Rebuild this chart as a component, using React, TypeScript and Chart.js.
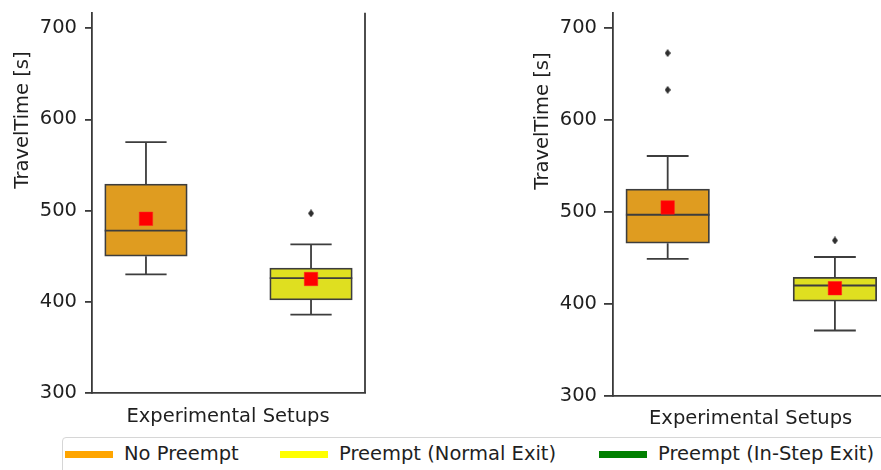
import React, { useEffect, useRef } from 'react';
import { Chart, registerables } from 'chart.js';

Chart.register(...registerables);

// ---------- data ----------
const legendLabels = ['No Preempt', 'Preempt (Normal Exit)', 'Preempt (In-Step Exit)'];
const legendColors = ['#FFA500', '#FFFF00', '#008000'];
const boxFills = ['#DF9C20', '#DFDF20'];
const boxPositions = [0, 1];
const yTickValues = [300, 400, 500, 600, 700];
const yAxisMin = 300;
const yAxisMax = 717;
const yTitle = 'TravelTime [s]';
const xTitle = 'Experimental Setups';

// left panel
const leftLow = [430, 386];
const leftQ1 = [450, 402];
const leftMedian = [478, 426];
const leftQ3 = [529, 437];
const leftHigh = [575, 463];
const leftMean = [491, 425];
const leftOutliers = [[], [497]];

// right panel
const rightLow = [449, 371];
const rightQ1 = [466, 403];
const rightMedian = [497, 420];
const rightQ3 = [525, 429];
const rightHigh = [561, 451];
const rightMean = [505, 417];
const rightOutliers = [[633, 673], [469]];

const EDGE = '#3d3d3d';
const TEXT = '#1f1f1f';
const FONT = "'DejaVu Sans', 'Liberation Sans', sans-serif";

function makeDiamond(): HTMLCanvasElement {
  const c = document.createElement('canvas');
  c.width = 6;
  c.height = 8;
  const g = c.getContext('2d')!;
  g.fillStyle = '#2e2e2e';
  g.beginPath();
  g.moveTo(3, 0);
  g.lineTo(6, 4);
  g.lineTo(3, 8);
  g.lineTo(0, 4);
  g.closePath();
  g.fill();
  return c;
}

const boxPlugin = {
  id: 'boxParts',
  afterDatasetDraw(chart: any, args: any) {
    const ds = chart.data.datasets[args.index];
    if (!ds.boxStats) return;
    const s = ds.boxStats;
    const xs = chart.scales.x;
    const ys = chart.scales.y;
    const ctx = chart.ctx;
    const cx = xs.getPixelForValue(s.pos);
    const hw = xs.getPixelForValue(s.pos + 0.25) - cx;
    const cw = hw / 2;
    const yq1 = ys.getPixelForValue(s.q1);
    const yq3 = ys.getPixelForValue(s.q3);
    const yLo = ys.getPixelForValue(s.low);
    const yHi = ys.getPixelForValue(s.high);
    const yMed = ys.getPixelForValue(s.median);
    ctx.save();
    ctx.strokeStyle = EDGE;
    ctx.lineWidth = 1.8;
    ctx.beginPath();
    ctx.moveTo(cx, yq3);
    ctx.lineTo(cx, yHi);
    ctx.moveTo(cx - cw, yHi);
    ctx.lineTo(cx + cw, yHi);
    ctx.moveTo(cx, yq1);
    ctx.lineTo(cx, yLo);
    ctx.moveTo(cx - cw, yLo);
    ctx.lineTo(cx + cw, yLo);
    ctx.moveTo(cx - hw, yMed);
    ctx.lineTo(cx + hw, yMed);
    ctx.stroke();
    ctx.restore();
  },
  afterDraw(chart: any, _args: any, opts: any) {
    const ctx = chart.ctx;
    const ca = chart.chartArea;
    ctx.save();
    if (opts.rightSpine) {
      ctx.strokeStyle = '#3a3a3a';
      ctx.lineWidth = 1.8;
      ctx.beginPath();
      ctx.moveTo(ca.right, ca.top);
      ctx.lineTo(ca.right, ca.bottom);
      ctx.stroke();
    }
    ctx.fillStyle = TEXT;
    ctx.font = `19.5px ${FONT}`;
    ctx.textAlign = 'center';
    ctx.textBaseline = 'alphabetic';
    ctx.fillText(xTitle, opts.xTitleX, opts.xTitleY);
    ctx.translate(opts.yTitleX, opts.yTitleY);
    ctx.rotate(-Math.PI / 2);
    ctx.fillText(yTitle, 0, 0);
    ctx.restore();
  },
};

interface PanelProps {
  low: number[];
  q1: number[];
  median: number[];
  q3: number[];
  high: number[];
  mean: number[];
  outliers: number[][];
  width: number;
  height: number;
  left: number;
  pad: { left: number; right: number; top: number; bottom: number };
  barThickness: number;
  tickLength: number;
  tickPadding: number;
  rightSpine: boolean;
  titles: { xTitleX: number; xTitleY: number; yTitleX: number; yTitleY: number };
}

function Panel(p: PanelProps) {
  const ref = useRef<HTMLCanvasElement>(null);
  useEffect(() => {
    if (!ref.current) return;
    const diamond = makeDiamond();
    const datasets: any[] = [];
    boxPositions.forEach((pos, i) => {
      datasets.push({
        type: 'bar',
        label: legendLabels[i],
        data: [{ x: pos, y: [p.q1[i], p.q3[i]] }],
        backgroundColor: boxFills[i],
        borderColor: EDGE,
        borderWidth: 1.8,
        borderSkipped: false,
        barThickness: p.barThickness,
        grouped: false,
        order: 3,
        boxStats: {
          pos,
          low: p.low[i],
          q1: p.q1[i],
          median: p.median[i],
          q3: p.q3[i],
          high: p.high[i],
        },
      });
    });
    datasets.push({
      type: 'scatter',
      label: 'outliers',
      data: boxPositions.flatMap((pos, i) => p.outliers[i].map((v) => ({ x: pos, y: v }))),
      pointStyle: diamond,
      pointRadius: 4,
      order: 2,
    });
    datasets.push({
      type: 'scatter',
      label: 'mean',
      data: boxPositions.map((pos, i) => ({ x: pos, y: p.mean[i] })),
      pointStyle: 'rect',
      pointRadius: 9.5,
      backgroundColor: '#FF0000',
      borderColor: '#FF2020',
      borderWidth: 0.5,
      order: 1,
    });

    const chart = new Chart(ref.current, {
      type: 'bar',
      data: { datasets },
      plugins: [boxPlugin],
      options: {
        animation: false,
        responsive: false,
        devicePixelRatio: 1,
        events: [],
        layout: { padding: { left: 0, right: p.pad.right, top: p.pad.top, bottom: 0 } },
        plugins: {
          legend: { display: false },
          tooltip: { enabled: false },
          boxParts: { rightSpine: p.rightSpine, ...p.titles },
        } as any,
        scales: {
          x: {
            type: 'linear',
            min: -0.327,
            max: 1.327,
            offset: false,
            ticks: { display: false },
            grid: { display: false, offset: false },
            border: { display: true, color: '#3a3a3a', width: 1.8 },
            afterFit: (scale: any) => {
              scale.height = p.pad.bottom;
              scale.paddingLeft = 0;
              scale.paddingRight = 0;
            },
          },
          y: {
            type: 'linear',
            min: yAxisMin,
            max: yAxisMax,
            afterBuildTicks: (scale: any) => {
              scale.ticks = yTickValues.map((v) => ({ value: v }));
            },
            ticks: {
              color: TEXT,
              font: { family: FONT, size: 19.5 },
              padding: p.tickPadding,
            },
            grid: {
              display: true,
              drawOnChartArea: false,
              drawTicks: true,
              tickLength: p.tickLength,
              color: '#3a3a3a',
              lineWidth: 1.8,
            },
            border: { display: true, color: '#3a3a3a', width: 1.8 },
            afterFit: (scale: any) => {
              scale.width = p.pad.left;
              scale.paddingTop = 0;
              scale.paddingBottom = 0;
            },
          },
        },
      } as any,
    });
    return () => chart.destroy();
  }, []);
  return (
    <canvas
      ref={ref}
      width={p.width}
      height={p.height}
      style={{ position: 'absolute', left: p.left, top: 0, width: p.width, height: p.height }}
    />
  );
}

export default function App() {
  const legendLineX = [65, 280, 599];
  const legendTextX = [124, 339, 658];
  return (
    <div
      style={{
        position: 'fixed',
        left: 0,
        top: 0,
        width: 881,
        height: 470,
        overflow: 'hidden',
        background: '#ffffff',
      }}
    >
      <Panel
        low={leftLow}
        q1={leftQ1}
        median={leftMedian}
        q3={leftQ3}
        high={leftHigh}
        mean={leftMean}
        outliers={leftOutliers}
        width={440}
        height={430}
        left={0}
        pad={{ left: 92, right: 75, top: 12.7, bottom: 37 }}
        barThickness={82.5}
        tickLength={7}
        tickPadding={8}
        rightSpine={true}
        titles={{ xTitleX: 228, xTitleY: 422, yTitleX: 28, yTitleY: 120 }}
      />
      <Panel
        low={rightLow}
        q1={rightQ1}
        median={rightMedian}
        q3={rightQ3}
        high={rightHigh}
        mean={rightMean}
        outliers={rightOutliers}
        width={460}
        height={430}
        left={441}
        pad={{ left: 172, right: 11.4, top: 12.7, bottom: 34.3 }}
        barThickness={83.6}
        tickLength={9}
        tickPadding={7}
        rightSpine={false}
        titles={{ xTitleX: 309.6, xTitleY: 424, yTitleX: 107, yTitleY: 121 }}
      />
      <div
        style={{
          position: 'absolute',
          left: 62,
          top: 437,
          width: 860,
          height: 60,
          border: '1px solid #d6d6d6',
          borderRadius: 4,
          boxSizing: 'border-box',
        }}
      />
      {legendLabels.map((lab, i) => (
        <React.Fragment key={lab}>
          <div
            style={{
              position: 'absolute',
              left: legendLineX[i],
              top: 451,
              width: 48,
              height: 6.5,
              background: legendColors[i],
            }}
          />
          <span
            style={{
              position: 'absolute',
              left: legendTextX[i],
              top: 443.5,
              fontFamily: FONT,
              fontSize: '19.5px',
              lineHeight: '19.5px',
              color: '#1f1f1f',
              whiteSpace: 'nowrap',
            }}
          >
            {lab}
          </span>
        </React.Fragment>
      ))}
    </div>
  );
}
